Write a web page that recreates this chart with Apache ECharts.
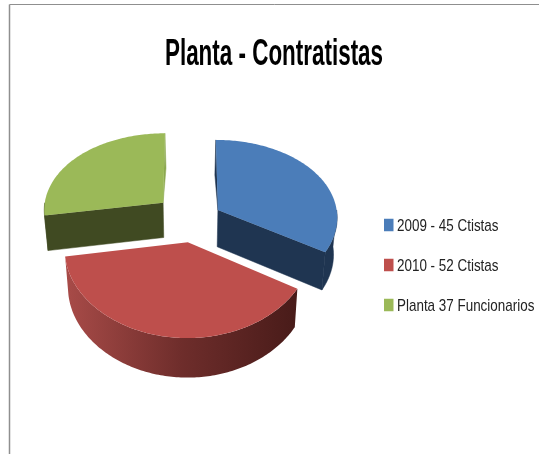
<!DOCTYPE html>
<html>
<head>
<meta charset="utf-8">
<style>html,body{margin:0;padding:0;background:#fff}#c{width:539px;height:454px}</style>
<script src="https://cdn.jsdelivr.net/npm/echarts@6/dist/echarts.min.js"></script>
</head>
<body>
<div id="c"></div>
<script>
const chartTitle = 'Planta - Contratistas';
const categories = ['2009 - 45 Ctistas', '2010 - 52 Ctistas', 'Planta 37 Funcionarios'];
const values = [45, 52, 37];

const topColors = ['#4B7DB9', '#BE4F4C', '#9BB958'];
const sideColors = ['#1F3551', null, '#404A22'];
const redWall = {
  type: 'linear', x: 66, y: 0, x2: 298, y2: 0, global: true,
  colorStops: [
    { offset: 0, color: '#A84B48' },
    { offset: 0.5, color: '#6E2D2B' },
    { offset: 1, color: '#481B19' }
  ]
};
// projection of the tilted, exploded pie
const view = { ox: 189, oy: 220.5, rx: 120, ry: 80, px: 0.08, py: 0.11, pd: 0.05, explode: 0.27, baseScale: 0.975 };
const sliceDepth = [37, 37, 35];
const nudges = [[1, 0], [5, 0], [-1.5, -4]];
const legendView = { x: 384, y: 225, step: 40, box: [9.5, 12.5], textX: 397, textDy: 1, font: '17px "Liberation Sans"', scaleX: 0.79 };

const total = values.reduce((a, b) => a + b, 0);
const rad = d => d * Math.PI / 180;

function project(X, Y, index, bottom) {
  const nudge = nudges[index];
  const wx = 1 / (1 + view.px * Y);
  const wy = 1 / (1 + view.py * Y);
  const wd = 1 / (1 + view.pd * Y);
  const k = bottom ? view.baseScale : 1;
  return [
    view.ox + nudge[0] + X * view.rx * wx * k,
    view.oy + nudge[1] - Y * view.ry * wy + (bottom ? sliceDepth[index] * wd : 0)
  ];
}

function sliceRender(index) {
  return function (params, api) {
    const value = api.value(0);
    let before = 0;
    for (let i = 0; i < index; i++) before += values[i];
    const a0 = before / total * 360;
    const a1 = (before + value) / total * 360;
    const mid = (a0 + a1) / 2;
    const cx = view.explode * Math.sin(rad(mid));
    const cy = view.explode * Math.cos(rad(mid));
    const rim = (a, b) => project(cx + Math.sin(rad(a)), cy + Math.cos(rad(a)), index, b);
    const apex = b => project(cx, cy, index, b);
    const children = [];
    const side = sideColors[index] || redWall;
    const poly = (points, fill) => children.push({
      type: 'polygon', shape: { points },
      style: { fill, stroke: fill === redWall ? null : fill, lineWidth: 0.5 }
    });
    // thin sliver of the back cut faces, seen past the top face
    const sliver = (a, dx, fill) => {
      const p = apex(false), q = rim(a, false);
      poly([p, [(p[0] + q[0]) / 2 + dx, (p[1] + q[1]) / 2], q], fill);
    };
    if (index === 0) sliver(a0, -2, side);
    if (index === 2) sliver(a1, 2, '#8CA850');
    // cut faces turned to the viewer
    if (a1 > 90 && a1 < 180) poly([apex(false), rim(a1, false), rim(a1, true), apex(true)], side);
    if (a0 > 180 && a0 < 270) poly([apex(false), rim(a0, false), rim(a0, true), apex(true)], side);
    // outer wall
    const w0 = Math.max(a0, 90), w1 = Math.min(a1, 270);
    if (w1 > w0) {
      const up = [], down = [];
      for (let a = w0; a < w1; a += 1) { up.push(rim(a, false)); down.unshift(rim(a, true)); }
      up.push(rim(w1, false)); down.unshift(rim(w1, true));
      poly(up.concat(down), side);
    }
    // top face
    const top = [apex(false)];
    for (let a = a0; a < a1; a += 1) top.push(rim(a, false));
    top.push(rim(a1, false));
    children.push({ type: 'polygon', shape: { points: top }, style: { fill: topColors[index] } });
    return { type: 'group', children };
  };
}

const legendGraphics = categories.flatMap((name, i) => {
  const cy = legendView.y + legendView.step * i;
  return [
    {
      type: 'rect', silent: true,
      shape: { x: legendView.x, y: cy - legendView.box[1] / 2, width: legendView.box[0], height: legendView.box[1] },
      style: { fill: topColors[i] }
    },
    {
      type: 'text', silent: true, x: legendView.textX, y: cy + legendView.textDy, scaleX: legendView.scaleX,
      style: { text: name, font: legendView.font, fill: '#222', textAlign: 'left', textVerticalAlign: 'middle' }
    }
  ];
});

const chart = echarts.init(document.getElementById('c'), null, { renderer: 'canvas' });
chart.setOption({
  animation: false,
  backgroundColor: '#ffffff',
  graphic: [
    { type: 'line', silent: true, shape: { x1: 9.5, y1: 4.5, x2: 9.5, y2: 454 }, style: { stroke: '#8f8f8f', lineWidth: 1.5 } },
    { type: 'line', silent: true, shape: { x1: 9.5, y1: 4.5, x2: 539, y2: 4.5 }, style: { stroke: '#8f8f8f', lineWidth: 1 } },
    {
      type: 'text', silent: true, x: 274, y: 55, scaleX: 0.623,
      style: { text: chartTitle, font: 'bold 36px "Liberation Sans"', fill: '#000', textAlign: 'center', textVerticalAlign: 'middle' }
    }
  ].concat(legendGraphics),
  series: categories.map((name, i) => ({
    type: 'custom', name, coordinateSystem: 'none', silent: true,
    itemStyle: { color: topColors[i] },
    renderItem: sliceRender(i),
    data: [[values[i]]],
    z: i === 1 ? 3 : 2
  }))
});
</script>
</body>
</html>
